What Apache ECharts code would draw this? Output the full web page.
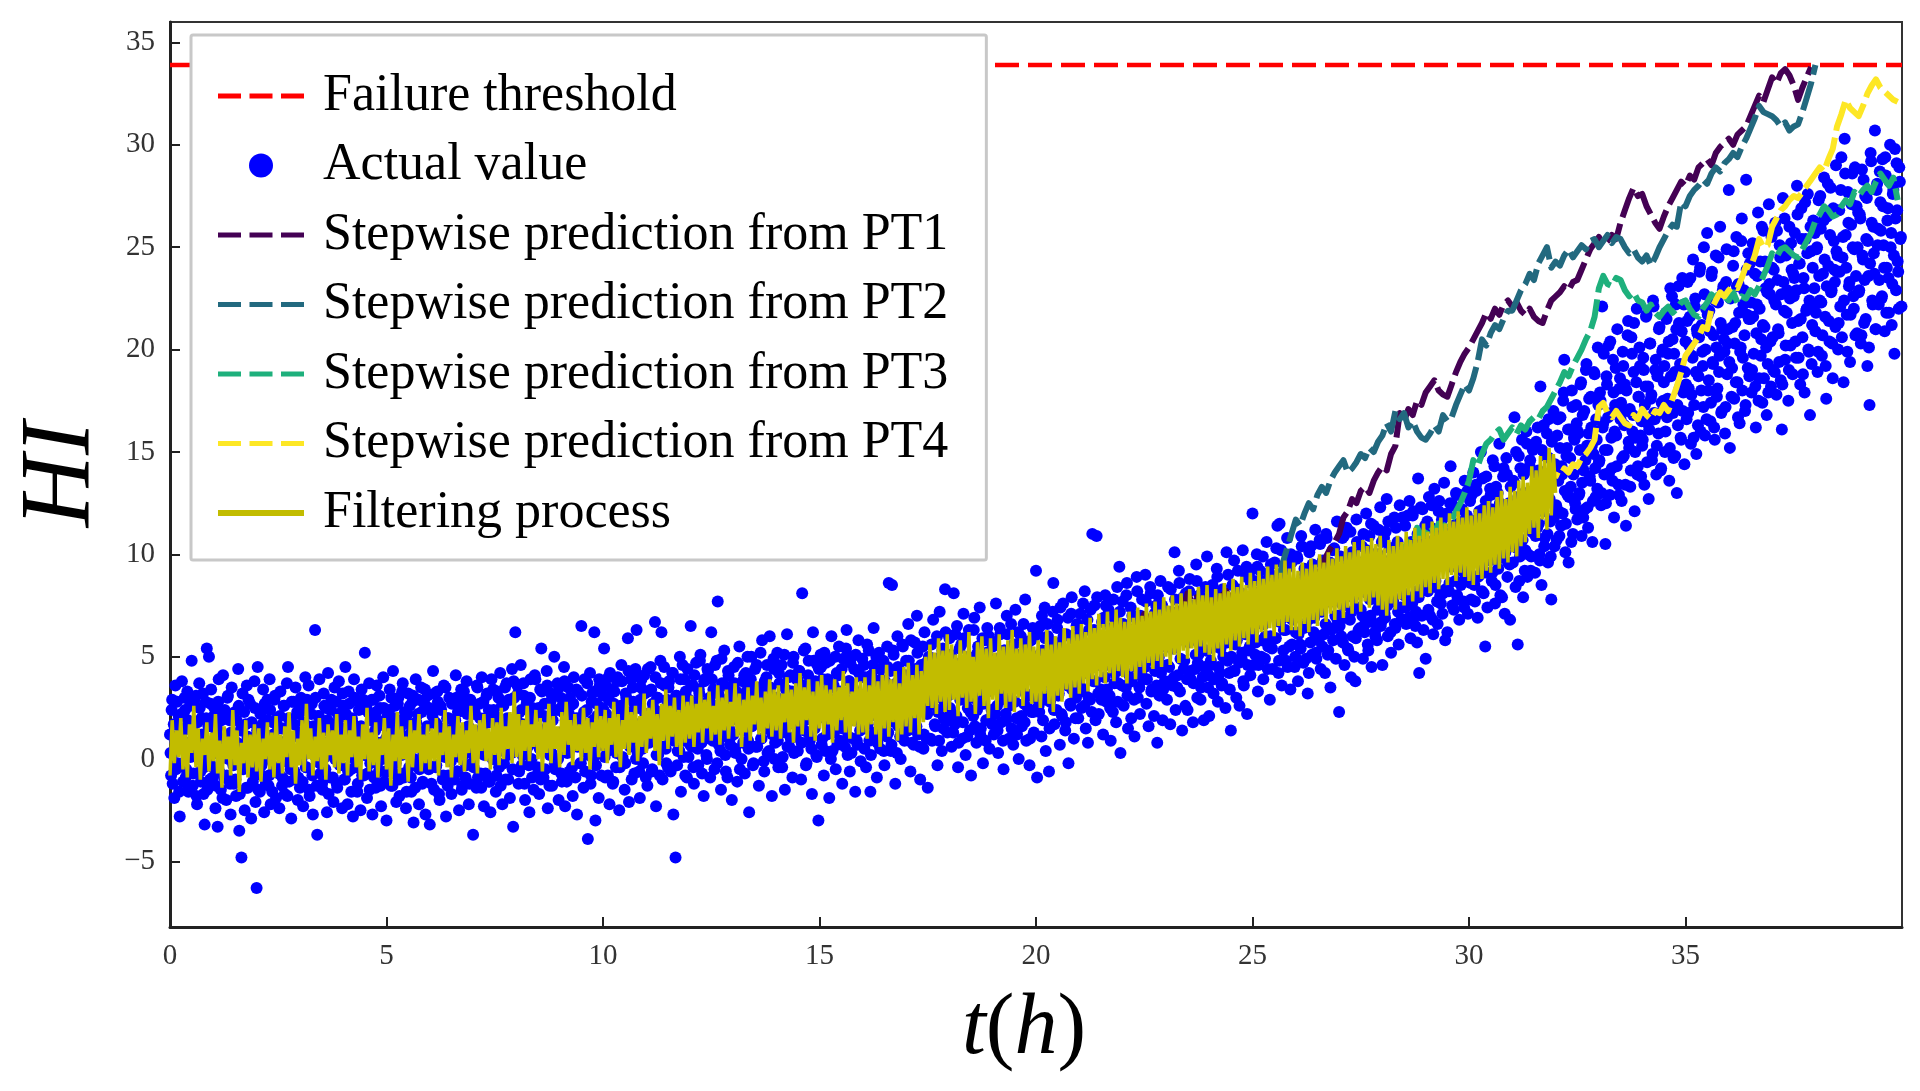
<!DOCTYPE html>
<html>
<head>
<meta charset="utf-8">
<title>HI stepwise prediction</title>
<script src="https://cdn.jsdelivr.net/npm/echarts@6.0.0/dist/echarts.min.js"></script>
<style>
html, body { margin: 0; padding: 0; background: #fff; }
#main { width: 1920px; height: 1091px; }
</style>
</head>
<body>
<div id="main"></div>
<script>
// ---- data ----
const failureThreshold = 33.9;
const xTicks = [0, 5, 10, 15, 20, 25, 30, 35];
const yTicks = [-5, 0, 5, 10, 15, 20, 25, 30, 35];

// actual HI measurements, two interleaved runs sampled every 0.025 h
const actualStep = 0.025;
const actual0to5 = [
  1.2,-0.8,2.9,0.3,-1.9,3.6,0.9,-0.2,2.1,-2.8,1.5,3.8,-1.1,0.6,2.4,-0.5,3.3,-1.6,1.8,0.1,
  4.8,-1.3,2.6,0.4,3.1,-2.2,1.1,3.7,-0.6,2.0,0.9,-1.7,-3.2,2.8,5.4,0.2,5.0,-1.0,3.4,1.6,
  -0.4,2.5,-2.4,1.3,-3.3,3.9,0.5,-1.5,2.2,4.1,-0.9,1.0,-2.0,3.0,0.0,1.9,-2.7,3.5,0.7,-1.2,
  2.3,-1.8,0.8,4.4,-3.5,1.4,-4.8,3.2,-0.3,-2.5,1.7,3.6,-1.4,0.3,2.7,-2.9,1.0,-0.7,3.8,-2.1,
  -6.3,4.5,0.6,-1.6,2.4,-0.8,3.4,-2.6,1.2,0.0,2.9,-1.3,3.9,-2.2,0.9,1.8,-0.5,3.1,-1.9,2.0,
  0.4,-2.4,3.3,1.5,-0.9,2.6,-1.7,0.8,3.7,4.5,-1.1,1.9,-2.9,0.2,2.8,-0.6,3.5,1.1,-2.0,2.2,
  -1.4,3.0,0.9,-2.3,2.4,4.0,-0.4,1.6,3.6,-1.8,0.3,2.7,-2.7,1.3,6.3,0.5,-3.7,2.1,3.9,-0.7,
  1.8,-1.5,3.2,0.1,2.5,-2.6,4.2,0.7,-0.9,2.9,1.4,-2.1,3.5,0.4,-1.2,2.2,3.8,-0.3,1.1,-2.4,
  2.6,-1.0,4.5,0.9,-2.2,3.3,1.7,-0.5,2.0,-2.8,3.9,0.0,1.5,-1.6,2.8,0.6,-2.5,3.4,1.0,-0.8,
  5.2,0.3,-1.9,2.3,3.7,-0.2,1.2,-2.7,2.9,0.8,-1.4,3.6,1.9,-0.6,2.5,-2.3,0.5,4.0,-1.1,1.6
];
const actual5to10 = [
  -3.0,2.1,0.4,3.4,-1.3,1.5,4.3,-0.7,2.6,-2.1,0.9,3.0,-1.8,1.9,0.2,3.7,-0.9,2.3,-2.4,1.1,
  3.2,-0.4,1.7,-1.6,2.8,-3.1,0.6,3.9,-0.1,2.2,-2.2,1.3,3.5,-1.2,0.3,2.7,-2.7,1.0,3.1,-0.5,
  -3.2,2.4,0.7,4.3,-1.5,1.8,-0.3,3.3,0.9,-2.0,2.6,1.2,-1.0,3.6,0.1,-2.8,2.0,-0.8,3.0,1.4,
  -1.7,2.9,0.4,1.6,4.1,-0.6,2.3,-2.5,1.0,3.4,-1.3,0.2,2.8,-0.9,3.8,1.5,-2.2,0.8,2.5,-0.2,
  -3.7,2.2,1.1,-1.4,3.5,0.3,2.7,-0.7,4.0,1.3,-2.3,2.0,0.5,3.2,-1.1,1.8,-2.6,3.9,0.0,2.4,
  1.0,-1.6,3.3,2.0,-0.4,4.2,0.7,-2.2,2.6,1.5,-1.0,3.7,0.2,2.9,-1.9,1.2,4.4,-3.3,3.0,6.2,
  0.8,3.6,-1.2,2.3,4.6,-0.3,1.7,3.1,-2.0,0.4,2.8,1.1,-2.6,3.9,0.0,2.5,-1.5,4.1,1.4,-0.8,
  2.1,-1.7,3.4,5.4,0.6,-0.9,2.7,1.3,4.3,-2.4,1.9,0.2,3.2,-1.3,2.4,5.0,-0.5,1.0,3.7,-2.0,
  0.9,3.0,-1.1,2.3,4.5,-2.3,1.6,0.3,3.5,-0.6,2.6,1.2,-1.8,4.0,0.7,2.0,-2.7,3.3,1.5,-0.2,
  6.5,1.8,-1.4,3.9,0.5,2.4,-3.9,1.1,4.2,-0.8,3.2,0.0,6.2,-3.0,2.7,1.4,-1.9,3.6,0.8,2.1
];
const actual10to15 = [
  3.1,5.4,-0.9,2.2,0.4,4.0,-2.2,1.8,3.4,-1.2,2.7,0.9,-0.4,3.8,1.3,-2.5,2.4,4.6,0.1,1.6,
  -1.5,3.2,2.0,5.9,-2.1,0.6,3.9,1.2,2.8,-0.7,4.4,6.3,0.3,2.5,-1.9,3.5,1.0,-0.2,4.1,2.2,
  0.8,-1.3,3.3,2.0,4.5,-0.6,2.7,1.4,6.7,-2.3,3.0,0.2,2.3,4.8,6.2,-1.0,1.7,3.6,0.5,2.9,
  -0.4,3.8,1.2,2.6,4.2,-2.7,1.5,-4.8,3.1,0.4,2.1,5.0,-1.6,2.8,0.9,3.9,-0.8,1.9,4.4,0.1,
  2.5,6.5,0.6,3.6,-1.2,2.0,4.7,1.1,-0.3,3.2,5.1,0.8,2.7,-1.8,3.9,1.5,0.0,4.3,2.2,-0.9,
  6.2,1.3,3.4,-0.5,2.6,4.8,7.7,0.7,2.0,-1.5,3.7,1.6,5.3,0.2,2.9,-0.9,4.1,1.0,3.0,-2.0,
  2.3,4.5,0.5,3.3,-1.1,1.9,5.5,2.7,0.0,3.8,1.4,-0.7,4.2,2.1,0.9,-2.6,3.6,5.0,1.7,-0.2,
  3.1,0.6,4.6,2.4,-1.3,3.5,1.0,5.8,2.9,-0.6,1.8,4.0,0.3,3.2,6.0,1.5,-1.8,2.6,4.4,0.8,
  2.0,5.2,-0.4,3.7,1.3,4.6,0.1,2.8,-1.5,3.4,6.1,1.7,0.6,4.1,2.3,-0.9,5.0,3.0,1.1,3.9,
  0.4,4.3,2.2,-1.0,8.1,3.6,1.4,5.4,-0.2,2.7,4.8,0.9,3.1,-1.7,6.2,1.9,3.8,0.2,4.6,-3.0
];
const actual15to20 = [
  2.6,5.1,0.7,3.9,-0.8,2.0,4.7,1.2,3.4,-1.9,2.9,6.0,0.4,3.6,1.6,-0.5,4.2,2.4,5.5,0.9,
  3.3,-1.2,4.9,1.8,2.7,6.3,0.2,3.8,-0.6,2.1,5.0,1.0,4.4,-1.6,3.0,0.7,5.8,2.5,-0.1,4.0,
  1.5,4.6,2.8,-0.4,5.6,3.3,0.9,-1.6,4.1,2.2,6.4,1.3,3.5,-0.9,2.6,5.2,0.5,3.9,1.9,4.8,
  -0.3,3.1,1.1,4.5,8.6,2.4,0.4,8.5,5.3,2.0,-1.2,3.7,6.0,1.6,4.2,0.0,2.9,5.5,1.4,3.6,
  4.8,1.8,6.6,2.6,-0.6,4.1,3.0,0.7,5.7,2.2,7.0,1.2,3.9,-1.0,4.6,2.8,0.5,6.2,3.3,1.0,
  -1.4,5.0,2.7,4.3,0.9,6.8,3.5,1.6,4.9,-0.3,2.4,7.2,3.8,0.4,5.4,2.0,8.3,4.6,1.3,3.1,
  5.9,2.3,0.6,4.4,8.1,1.7,3.6,6.5,-0.4,4.0,2.9,5.6,1.0,7.1,3.2,0.2,4.8,2.5,6.3,1.4,
  -0.8,4.5,2.1,6.9,3.4,0.8,5.2,2.7,7.4,1.5,4.1,-0.2,3.0,5.8,1.9,6.4,3.6,0.5,4.7,2.4,
  5.5,1.2,3.8,7.6,2.6,0.3,4.9,6.1,1.8,3.3,-0.5,5.3,2.2,7.0,4.3,1.0,3.0,6.6,2.8,0.7,
  4.6,7.3,2.0,5.1,0.0,3.7,6.0,1.6,4.4,2.7,7.8,0.9,5.7,3.1,-0.3,4.8,2.3,6.4,1.3,3.9
];
const actual20to25 = [
  9.2,-0.9,4.6,2.3,6.5,1.1,5.3,3.0,7.4,0.4,4.1,6.0,-0.6,2.8,5.6,3.5,8.6,1.7,4.9,2.4,
  6.8,3.2,0.7,5.4,2.1,7.6,4.3,1.4,6.1,3.6,-0.2,5.0,2.6,7.9,4.0,1.0,5.8,3.0,6.6,2.0,
  4.4,7.1,2.5,5.6,3.3,8.2,1.5,4.9,0.8,6.3,2.9,5.2,11.0,3.8,7.5,1.9,10.9,4.6,2.2,6.0,
  3.4,6.7,1.2,5.5,8.0,2.8,4.7,7.3,3.1,0.9,5.9,2.3,6.9,4.2,1.8,8.4,3.7,9.4,0.3,5.3,
  7.7,2.6,5.1,3.5,8.6,1.5,6.2,4.0,2.0,7.0,5.6,1.1,4.5,8.9,3.0,6.5,2.2,5.0,7.8,3.9,
  4.8,9.0,2.7,6.4,1.6,5.5,8.1,3.4,6.9,2.1,4.3,7.5,0.8,5.8,3.1,8.7,4.6,1.9,6.7,3.8,
  6.1,2.9,8.4,4.5,1.7,7.2,3.6,5.4,10.1,2.4,6.8,4.1,9.2,3.3,5.9,1.4,7.9,4.8,2.6,6.5,
  2.4,5.7,8.8,3.9,6.6,1.8,7.4,4.4,9.5,3.0,5.1,8.0,2.9,6.2,4.0,1.9,7.6,5.3,9.9,3.5,
  2.1,6.9,4.6,8.5,3.2,7.3,5.5,9.3,2.8,6.0,4.2,8.1,3.7,5.0,7.7,2.5,10.1,4.8,6.4,3.4,
  1.4,7.0,4.3,9.7,5.6,3.0,8.3,6.2,2.6,7.8,4.9,10.2,3.6,6.6,8.9,2.2,5.3,9.1,4.1,7.2
];
const actual25to30 = [
  12.0,4.6,8.1,5.7,10.0,3.3,7.4,9.2,5.0,6.6,3.9,8.7,6.0,10.6,4.4,7.9,2.9,9.5,5.4,7.1,
  8.4,5.9,10.3,11.4,4.2,11.5,7.0,3.6,9.0,6.3,8.8,4.8,10.8,7.6,5.5,3.4,9.6,6.8,8.2,4.5,
  6.2,9.9,3.8,8.0,5.6,10.9,7.3,4.7,9.3,6.5,8.6,3.2,4.2,7.8,10.4,5.1,9.1,6.9,11.2,4.9,
  8.5,5.8,10.7,4.4,7.2,9.7,6.1,4.2,11.0,8.3,5.3,9.4,3.5,7.7,10.2,6.4,8.9,4.9,11.6,7.0,
  2.3,9.2,6.0,10.8,7.5,4.6,8.7,11.3,5.4,9.8,6.8,4.0,10.1,7.9,5.0,3.8,11.7,8.4,6.3,9.6,
  7.3,10.4,4.9,9.0,6.6,12.0,8.1,5.3,10.9,7.0,4.5,9.5,11.4,6.2,8.8,5.8,10.0,7.6,12.3,6.7,
  4.6,9.7,7.1,11.1,12.7,6.0,8.5,10.3,5.2,9.1,7.7,11.8,6.4,8.9,10.6,5.6,12.4,7.4,9.9,6.8,
  8.0,11.4,6.6,10.1,7.9,12.6,5.9,9.3,11.9,6.9,9.8,7.2,5.7,13.7,4.2,10.7,8.3,12.2,6.3,9.0,
  4.9,10.5,8.2,12.8,7.0,11.3,9.4,6.1,13.2,8.7,10.9,6.6,12.1,9.9,7.6,11.7,8.1,13.5,5.8,10.2,
  6.2,11.0,8.6,14.3,9.5,12.4,7.3,10.6,13.0,8.0,11.5,6.8,12.9,9.2,10.8,7.7,13.6,8.9,11.9,7.1
];
const actual30to35 = [
  9.4,12.6,7.8,11.2,14.0,8.5,10.7,13.1,6.9,11.8,9.0,15.0,8.2,12.2,10.1,5.5,13.8,7.4,11.5,9.7,
  12.9,8.7,14.6,10.4,7.6,13.3,11.2,9.3,15.4,8.0,12.0,10.0,14.2,7.1,11.7,13.9,9.6,12.5,6.8,10.9,
  10.5,13.6,16.7,8.4,12.3,5.6,14.8,9.9,11.8,15.6,7.9,13.0,10.2,16.0,8.9,12.7,14.3,9.2,11.1,15.1,
  12.0,9.1,15.5,11.3,14.1,10.0,18.2,8.5,13.2,16.3,10.8,12.6,15.9,9.6,14.7,11.6,7.8,13.7,17.0,10.4,
  14.2,10.7,16.6,12.1,15.2,11.4,13.9,17.5,19.5,10.1,14.8,12.9,9.6,16.1,13.3,18.0,11.0,15.7,12.5,17.3,
  11.7,15.9,13.0,18.3,10.9,16.8,14.1,12.2,19.0,15.3,11.3,17.6,13.6,16.2,10.6,14.9,18.8,12.8,15.6,20.1,
  14.5,17.9,12.4,22.1,16.4,13.9,10.5,18.7,15.1,20.2,12.9,16.9,14.2,19.5,11.8,17.3,15.8,21.0,13.4,18.1,
  16.6,12.6,19.9,14.8,18.3,11.4,17.0,21.4,15.2,13.3,20.6,16.0,18.9,12.1,15.7,22.0,14.3,17.7,19.2,13.8,
  15.3,19.6,13.4,18.2,21.7,16.4,12.7,20.3,17.6,14.6,22.4,16.9,19.0,13.9,18.7,15.9,21.1,14.1,17.4,20.0,
  18.4,15.0,21.8,16.7,19.8,13.6,23.0,17.2,20.5,14.7,18.9,22.2,13.0,16.3,21.3,19.3,15.6,23.5,17.9,14.4
];
const actual35to40 = [
  20.4,16.6,23.3,18.1,21.6,15.4,19.7,24.4,17.3,22.5,14.9,20.8,18.7,23.8,16.0,21.2,19.2,25.0,15.8,22.0,
  25.7,18.0,21.9,16.5,23.6,19.4,20.7,15.6,24.6,17.7,22.3,18.9,26.0,16.9,21.0,23.1,19.9,17.2,24.9,20.3,
  27.8,15.2,22.6,19.1,24.1,17.6,21.3,25.5,18.4,23.2,16.4,20.1,26.4,19.6,22.9,17.0,28.3,21.7,24.7,18.7,
  21.5,17.9,25.2,19.8,23.7,16.2,22.2,26.7,18.6,24.3,20.5,17.4,25.8,21.1,23.0,16.8,19.3,27.1,22.7,18.2,
  24.0,19.0,22.4,26.2,17.8,23.4,20.8,25.1,18.5,16.1,27.4,21.9,19.5,24.6,22.9,17.5,26.0,20.2,23.9,18.8,
  22.6,25.7,19.6,28.0,21.4,24.2,18.3,26.9,20.6,23.5,17.9,25.4,22.0,27.6,19.9,16.8,24.8,21.2,26.3,23.0,
  20.9,24.9,18.9,27.3,22.4,25.9,19.7,23.7,28.4,21.6,17.6,26.5,24.1,20.4,27.9,22.9,18.6,25.3,23.3,29.0,
  23.8,20.0,26.8,22.1,29.4,24.5,18.4,30.3,25.6,21.7,27.7,23.1,19.4,26.1,28.6,22.6,24.9,20.7,27.0,25.0,
  22.8,26.6,20.3,28.8,24.4,21.3,27.5,25.4,19.2,23.6,17.3,29.6,26.2,22.2,24.7,30.7,21.0,28.1,25.9,23.4,
  27.2,22.5,29.3,25.1,20.9,28.5,24.0,26.9,21.8,30.0,25.7,23.2,27.8,19.8,26.4,29.1,24.3,22.0,28.2,25.5
];
// second run, offset half a step
const actualB0to5 = [
  0.3,2.4,-1.2,1.7,0.9,-0.5,2.8,1.1,-1.6,0.6,2.2,-0.2,1.4,3.0,-0.9,0.8,1.9,-1.4,2.6,0.2,
  1.5,-0.7,2.9,0.4,-1.8,1.8,0.0,2.5,-1.1,1.2,3.2,-0.4,0.7,2.0,-1.5,1.6,-0.1,2.7,0.5,-0.9,
  2.1,0.3,-1.3,1.5,2.8,-0.6,0.9,1.9,-1.9,0.1,2.4,1.0,-0.8,3.1,0.6,-1.2,1.3,2.2,-0.3,0.8,
  -1.0,1.9,0.2,2.6,-1.7,0.7,1.6,-0.5,2.3,0.0,-1.4,1.1,2.9,-0.2,0.9,1.8,-1.1,0.4,2.5,-0.6,
  1.4,-1.5,0.8,2.2,-0.3,1.7,0.1,2.7,-1.2,0.6,1.9,-0.8,2.4,0.3,-1.6,1.2,2.9,-0.4,0.9,1.6,
  -0.7,2.1,0.5,-1.3,1.5,2.6,-0.1,0.9,-1.8,2.0,1.0,-0.5,2.8,0.4,1.7,-1.0,0.2,2.3,-0.9,1.3,
  2.5,0.0,-1.1,1.8,0.7,-0.4,2.9,1.2,-1.5,0.5,2.2,-0.8,1.6,0.2,3.0,-1.3,1.0,2.1,-0.2,0.8,
  -1.2,1.4,2.6,-0.5,0.8,1.9,-1.7,0.3,2.4,1.1,-0.9,1.7,0.0,2.8,-1.4,0.6,2.0,-0.3,1.5,3.2,
  0.4,-1.0,2.2,1.3,-0.6,2.7,0.1,-1.6,1.8,0.9,3.0,-0.4,1.2,-1.2,2.4,0.5,1.6,-0.8,2.9,0.2,
  1.1,2.6,-0.7,0.6,-1.5,1.9,2.9,0.3,-0.9,1.4,2.3,-0.2,0.8,3.1,-1.3,1.7,0.0,2.5,-0.6,1.0
];
const actualB5to10 = [
  1.6,-0.6,2.4,0.2,3.0,-1.3,1.1,2.0,-0.2,0.7,2.7,-1.0,1.5,0.4,3.3,-0.7,1.9,0.9,-1.6,2.2,
  0.3,2.6,-0.9,1.4,3.1,0.0,-1.4,1.8,0.6,2.9,-0.5,1.2,2.3,-1.1,0.8,3.4,0.1,1.6,-0.3,2.5,
  1.0,-1.2,2.1,0.5,3.2,-0.4,1.7,2.8,-1.7,0.9,2.4,0.2,-0.8,1.5,3.5,0.6,-1.3,2.0,1.1,-0.1,
  2.7,0.4,-1.0,1.9,3.0,-0.6,1.3,0.1,2.5,-1.5,1.0,3.3,0.7,-0.3,2.2,1.6,-1.2,2.9,0.3,1.4,
  -0.4,2.3,1.2,3.6,-0.9,0.8,2.0,-1.4,1.5,2.8,0.2,-0.7,3.1,1.0,2.4,-1.1,0.5,1.8,3.4,0.0,
  2.1,-0.8,1.3,3.0,0.4,-1.3,2.6,1.7,-0.2,3.5,0.9,2.0,-1.0,1.2,2.9,0.3,-0.5,3.8,1.6,0.7,
  1.9,3.2,-0.6,1.0,2.4,0.2,3.7,-1.2,1.5,2.7,0.6,-0.3,3.0,1.8,-0.9,2.2,0.8,3.9,1.2,-0.4,
  2.5,0.5,-1.0,3.3,1.4,2.1,-0.5,0.9,3.6,1.7,-1.3,2.8,0.3,1.9,3.1,-0.2,1.1,2.4,0.0,3.5,
  1.3,-0.7,2.6,0.8,3.8,1.9,-1.1,0.4,2.2,3.0,1.0,-0.4,2.7,1.5,-0.9,3.4,0.6,2.0,1.7,-0.2,
  3.1,0.9,2.3,-0.6,1.6,3.7,0.2,1.2,-1.2,2.8,1.9,0.4,3.3,-0.3,2.1,1.4,3.9,0.7,-0.8,2.5
];
const actualB10to15 = [
  2.4,0.1,3.6,1.2,-0.8,2.9,4.2,0.6,1.8,-1.1,3.3,2.0,0.3,4.0,1.5,-0.4,2.6,3.8,0.9,1.9,
  -0.2,3.0,1.4,4.3,0.7,2.3,-1.0,3.5,1.0,2.7,0.0,4.1,1.7,-0.6,2.9,3.9,0.5,1.3,3.2,-0.9,
  2.2,4.4,0.8,1.6,3.4,-0.5,2.5,1.1,4.0,0.2,3.0,1.9,-0.8,3.7,2.1,0.6,4.5,1.4,-0.2,2.8,
  3.5,1.0,-0.6,2.4,4.2,0.9,1.8,3.1,-0.3,2.6,0.4,3.9,1.5,4.6,0.1,2.0,3.3,-0.9,1.2,2.9,
  0.7,3.6,2.2,-0.4,4.1,1.3,2.8,0.5,3.4,4.8,1.7,-0.7,2.5,3.8,1.0,0.2,4.4,2.0,3.0,1.4,
  3.9,0.9,2.4,4.6,1.6,-0.2,3.2,2.1,0.4,4.9,1.1,2.8,3.6,-0.6,2.0,4.3,1.5,0.7,3.4,2.6,
  1.2,3.7,0.3,2.6,4.7,1.9,-0.5,3.0,2.2,0.8,4.1,1.4,3.3,5.0,0.5,2.4,3.9,1.6,-0.3,2.9,
  4.4,1.8,0.6,3.2,2.3,5.2,1.0,2.7,-0.1,3.8,1.5,4.6,2.0,0.4,3.5,2.8,1.2,4.9,0.0,2.5,
  3.0,0.9,4.2,1.7,2.6,-0.4,3.6,5.1,1.3,2.2,0.6,4.0,2.9,1.0,3.3,4.7,0.3,2.4,1.8,3.9,
  1.6,4.3,2.7,0.8,3.5,5.3,1.9,-0.3,2.9,4.1,1.2,3.2,0.5,2.3,4.8,1.5,3.6,0.1,2.6,4.4
];
const actualB15to20 = [
  2.3,4.5,1.0,3.3,5.2,0.4,2.8,3.9,1.6,4.8,0.0,2.5,3.6,1.3,5.0,2.0,0.7,4.1,2.9,1.8,
  4.4,1.5,3.1,0.6,5.4,2.4,1.1,3.8,4.7,0.3,2.7,3.4,1.9,5.1,0.9,3.0,4.2,1.4,2.2,4.9,
  2.6,0.5,4.0,3.2,1.7,5.3,2.1,0.2,3.7,4.6,1.2,2.9,5.0,0.8,3.5,2.3,4.4,1.6,3.0,0.4,
  3.8,2.2,5.5,1.3,3.0,4.3,0.7,2.6,5.1,1.8,3.5,0.3,4.5,2.4,1.1,3.9,5.6,2.0,0.9,4.1,
  3.1,1.4,4.8,2.5,5.8,0.8,3.6,2.0,4.4,1.6,5.2,3.0,0.6,4.0,2.7,5.5,1.2,3.4,4.7,2.2,
  4.3,2.6,1.0,5.6,3.2,4.9,1.7,3.9,6.0,2.3,0.9,4.5,3.0,5.3,1.5,2.8,6.2,3.6,1.9,4.6,
  2.5,5.1,3.4,1.3,4.7,6.1,2.1,3.8,0.8,5.4,3.1,4.2,1.8,5.9,2.9,4.0,1.1,5.0,3.6,2.3,
  4.8,3.0,6.3,1.6,4.1,2.4,5.5,3.5,1.2,4.6,5.9,2.7,3.9,0.9,5.2,3.3,6.0,2.0,4.4,1.7,
  3.7,5.7,2.2,4.9,1.4,3.4,6.4,2.9,4.2,0.9,5.3,3.1,1.9,6.1,4.5,2.6,5.0,1.5,3.8,5.6,
  2.8,4.7,1.2,6.2,3.5,5.1,2.1,4.0,6.6,1.8,3.2,5.4,2.5,4.4,1.0,5.8,3.9,2.3,6.0,3.0
];
const actualB20to25 = [
  4.0,6.2,2.6,5.1,3.3,7.0,1.9,4.7,5.9,2.9,6.6,3.8,1.5,5.4,4.3,7.2,2.4,5.7,3.5,6.4,
  3.1,5.5,7.4,2.2,4.6,6.0,3.7,1.8,5.2,6.9,4.1,2.7,7.1,3.4,5.9,4.9,2.0,6.5,3.9,5.3,
  6.1,3.5,4.8,7.6,2.6,5.6,4.2,6.8,3.0,5.0,7.3,2.3,4.5,6.3,3.8,5.8,7.9,3.2,4.9,6.0,
  2.9,5.3,6.9,4.0,7.5,3.4,5.7,4.6,2.5,6.4,5.1,7.8,3.7,6.1,4.4,2.8,5.9,7.2,4.8,3.6,
  6.6,4.3,5.5,8.0,3.1,6.2,4.9,7.4,3.8,5.8,2.9,6.9,4.6,8.2,5.2,3.5,7.0,4.1,6.4,5.6,
  4.5,7.7,3.9,6.0,5.3,8.4,3.3,6.7,4.8,7.1,5.9,3.6,8.0,5.0,6.5,4.2,7.5,3.4,6.1,5.5,
  7.2,4.6,6.3,3.8,8.3,5.4,6.9,4.0,7.8,5.7,3.5,6.6,8.6,4.9,6.0,7.3,4.4,5.8,8.1,3.9,
  5.9,8.2,4.3,6.8,7.5,3.7,6.2,5.1,8.7,4.7,7.0,5.6,3.5,7.7,6.4,4.5,8.4,5.3,6.9,4.1,
  6.7,4.8,8.0,5.9,3.9,7.4,6.1,8.9,4.5,7.1,5.4,3.6,8.3,6.5,4.9,7.8,5.7,9.0,4.2,6.3,
  5.0,8.5,6.4,4.3,7.6,5.8,9.2,4.7,6.9,8.1,5.2,3.8,7.3,6.1,9.4,4.6,7.0,5.5,8.6,6.0
];
const actualB25to30 = [
  6.2,8.7,5.1,7.5,9.4,4.6,7.0,8.2,5.8,9.9,6.6,4.9,8.5,7.3,5.5,9.1,6.0,8.0,4.4,7.8,
  9.6,5.9,7.2,8.8,4.8,6.7,10.2,7.7,5.3,8.4,6.3,9.3,4.5,7.9,6.9,10.0,5.6,8.3,7.1,5.0,
  7.4,9.8,6.1,8.6,5.4,10.4,7.6,6.4,9.0,4.9,8.1,6.8,10.1,5.7,7.3,9.5,6.2,8.9,5.2,7.8,
  8.8,6.0,10.5,7.4,5.5,9.2,8.0,6.6,10.8,5.1,7.7,9.6,6.3,8.5,5.8,10.3,7.0,9.0,6.8,8.2,
  6.5,9.9,7.6,5.7,10.9,8.3,6.9,9.4,5.3,8.7,11.1,7.2,6.0,9.7,8.1,5.9,10.6,7.4,8.9,6.4,
  9.3,7.0,11.0,6.2,8.6,10.2,5.6,9.0,7.8,11.5,6.7,8.4,10.0,6.0,9.5,7.3,11.2,8.0,6.5,10.6,
  8.3,10.8,6.9,9.6,7.5,11.6,8.8,6.2,10.3,7.9,9.2,6.6,11.3,8.5,7.2,10.0,9.4,6.8,11.8,8.1,
  10.2,7.4,9.1,11.9,6.9,8.7,10.6,7.6,12.1,9.5,6.5,8.2,11.0,7.9,9.8,12.3,7.0,10.4,8.6,11.4,
  8.9,11.6,7.3,10.1,9.3,12.4,6.8,10.7,8.4,11.2,7.7,9.9,12.6,8.0,10.5,7.1,11.8,9.6,8.3,12.0,
  10.9,8.2,12.5,9.4,7.5,11.4,10.0,8.7,12.9,7.8,11.1,9.7,8.5,12.2,10.3,7.4,11.7,9.2,13.1,8.9
];
const actualB30to35 = [
  10.8,8.6,12.9,9.9,11.6,7.7,13.4,10.3,8.9,12.1,11.0,9.4,13.7,8.1,10.6,12.6,9.1,11.9,10.0,13.2,
  12.2,9.1,10.4,14.3,8.5,11.7,13.0,9.8,12.5,10.9,7.9,13.8,11.3,10.1,14.7,8.9,12.0,9.5,13.3,11.6,
  9.6,13.5,11.1,15.0,10.3,12.8,8.7,14.2,12.3,10.7,13.9,9.2,11.8,15.4,10.0,12.6,14.6,9.9,11.4,13.1,
  14.0,10.9,12.9,16.2,11.5,9.7,13.6,15.1,12.1,10.4,14.8,13.2,11.0,16.6,12.7,9.9,15.5,13.9,11.8,14.4,
  12.4,15.8,13.6,10.9,16.7,14.3,12.0,17.9,13.1,11.5,15.2,16.1,12.8,14.7,10.6,17.2,13.9,15.6,12.2,16.4,
  16.0,12.9,15.1,18.4,13.5,11.8,17.0,14.6,19.3,12.3,15.9,13.8,17.7,15.3,12.6,18.9,14.2,16.6,13.2,17.3,
  14.6,17.5,13.0,16.2,19.8,15.1,12.5,18.3,16.7,14.0,20.4,15.7,13.6,17.9,16.0,19.1,14.3,17.0,12.9,18.6,
  17.4,14.7,19.2,16.3,13.4,18.0,20.7,15.5,17.1,14.1,19.8,16.8,21.3,15.0,18.4,13.9,17.7,20.1,15.8,16.5,
  15.6,19.0,17.3,21.6,14.5,18.2,16.1,20.3,17.8,14.9,22.1,16.6,19.5,15.3,18.9,21.0,16.9,14.2,19.9,17.5,
  19.2,16.0,21.5,17.6,20.4,15.2,18.7,22.6,16.9,19.8,14.8,21.0,17.3,23.1,18.1,15.7,20.9,17.0,22.2,18.9
];
const actualB35to40 = [
  18.3,21.4,16.9,20.2,23.5,17.8,19.6,15.7,22.1,18.9,21.0,16.3,20.6,24.0,18.0,19.9,17.2,22.7,20.0,16.6,
  21.7,18.5,20.9,17.4,23.8,19.3,16.2,22.4,20.1,18.1,24.5,19.7,21.3,17.0,22.9,20.5,15.9,23.3,18.8,21.0,
  19.4,22.5,17.7,21.1,24.8,20.3,18.4,23.1,16.7,21.8,19.9,25.3,18.0,22.2,20.7,17.3,23.9,19.1,21.5,24.2,
  22.3,19.0,21.6,25.1,18.2,20.8,23.6,17.5,22.0,19.7,26.0,21.2,18.6,24.3,20.1,22.8,17.9,23.2,20.4,25.5,
  20.6,23.9,18.9,22.2,25.8,21.0,19.4,24.5,22.7,18.3,23.3,26.4,20.2,21.8,24.9,19.0,22.5,25.2,21.3,23.7,
  23.5,20.4,22.9,26.6,19.6,24.2,21.5,25.4,18.8,23.0,27.2,21.9,24.7,20.0,22.4,26.0,19.3,24.0,22.1,25.7,
  21.8,25.0,19.9,23.6,27.5,22.3,20.7,26.3,24.4,19.2,23.1,28.1,21.4,25.6,22.8,20.3,26.9,23.9,21.1,24.8,
  24.6,21.3,23.8,27.8,20.6,25.5,22.4,28.6,24.0,19.9,26.2,23.3,21.7,27.1,25.0,22.0,28.9,23.6,20.8,26.7,
  22.9,26.4,20.7,24.6,28.3,23.4,21.5,27.4,25.3,20.1,24.2,29.2,22.4,26.0,23.7,21.0,27.8,25.1,22.2,28.7,
  25.8,22.6,27.0,24.0,29.4,21.8,26.3,23.5,28.2,25.0,21.2,27.6,24.6,29.8,22.9,26.8,23.8,28.9,25.4,22.1
];

// filtering process, one estimate every 0.05 h
const filterStep = 0.05;
const filter0to8 = [
  -0.8,1.9,-0.2,1.4,0.1,2.0,-0.5,1.2,-0.9,1.7,0.3,2.6,-0.4,1.5,-1.0,1.0,0.2,1.8,-0.6,1.3,
  -0.1,2.2,-0.7,0.9,-1.4,1.6,0.0,1.1,-0.8,2.4,-0.3,1.4,-1.6,0.8,-0.2,1.9,-0.9,1.2,-0.4,1.7,
  -0.6,1.5,-1.1,1.0,0.0,1.8,-0.5,1.3,-0.9,2.1,-0.2,1.2,-0.7,1.6,0.1,2.3,-0.4,1.4,-1.2,1.0,
  -0.3,1.9,-0.6,2.7,0.0,1.5,-0.8,1.1,-0.1,2.0,-0.5,1.3,-1.0,1.7,0.2,1.4,-0.4,2.2,-0.7,1.2,
  -0.2,1.9,-0.8,1.4,0.1,2.1,-0.4,1.1,-1.0,1.7,0.0,2.5,-0.6,1.3,-0.3,1.8,-0.9,1.0,0.2,2.0,
  -0.5,1.5,-1.3,1.2,-0.1,2.3,-0.7,1.6,0.0,1.1,-1.1,1.9,-0.4,1.4,0.3,2.2,-0.6,1.2,-0.2,1.7,
  -0.5,1.5,-0.1,2.0,-0.8,1.3,0.2,2.4,-0.4,1.6,-0.9,1.2,0.1,2.1,-0.3,1.8,-0.6,1.4,0.3,2.6,
  -0.2,1.7,-0.7,1.9,0.4,2.2,-0.1,1.5,-0.5,2.0,0.2,1.8,-0.3,2.5,0.0,1.6,0.5,2.3,-0.2,3.3
];
const filter8to16 = [
  0.1,2.2,-0.3,1.9,0.4,2.6,-0.1,1.7,0.6,2.4,0.0,2.0,-0.6,1.8,0.3,2.7,-0.2,2.1,0.5,1.6,
  -0.4,2.3,0.2,2.8,0.7,1.9,-0.3,2.2,0.4,1.7,-0.1,2.5,0.3,2.0,-0.5,1.8,0.6,2.6,0.1,2.1,
  0.4,2.4,-0.2,2.0,0.7,2.8,0.1,2.2,-0.4,1.9,0.5,3.0,0.2,2.3,0.8,2.6,-0.1,2.1,0.6,3.2,
  0.3,2.5,1.0,2.9,0.4,2.2,-0.3,2.7,0.9,3.4,0.5,2.6,1.1,3.0,0.6,2.4,0.2,3.1,0.8,2.8,
  1.0,3.1,0.6,2.7,1.3,3.5,0.8,2.9,1.5,3.3,0.9,2.6,1.2,3.6,0.7,3.0,1.4,3.4,1.0,2.8,
  1.6,3.7,1.1,3.2,0.6,2.9,1.3,3.5,0.9,3.1,1.7,3.8,1.2,3.0,0.8,3.3,1.5,3.9,1.1,3.4,
  1.4,3.6,1.0,3.2,1.8,4.0,1.3,3.4,0.8,3.7,1.6,4.2,1.2,3.5,1.9,3.9,1.1,3.3,0.9,3.8,
  1.5,4.1,1.2,3.6,1.7,3.4,0.8,3.9,1.4,3.5,1.9,4.3,1.3,3.7,1.0,3.3,1.6,4.0,1.2,3.8
];
const filter16to24 = [
  1.3,4.0,1.0,3.6,1.7,4.4,1.2,3.8,0.6,4.1,1.5,4.6,1.1,3.9,1.8,4.3,0.9,3.7,1.2,4.5,
  1.6,4.7,1.3,4.1,2.0,4.6,1.2,4.3,1.8,5.0,2.6,5.6,2.5,5.2,2.2,5.9,2.8,5.3,2.3,6.1,
  2.4,5.6,2.9,5.1,2.1,5.8,3.0,5.3,2.5,6.2,2.8,5.0,2.2,5.7,3.1,6.0,2.6,5.4,2.0,5.9,
  2.9,5.2,2.4,6.1,3.2,5.5,2.5,5.8,2.8,6.3,2.3,5.4,3.0,5.9,2.6,5.6,3.3,6.2,2.7,5.5,
  2.8,5.8,2.5,5.4,3.2,6.3,2.7,5.6,2.3,6.0,3.1,5.7,2.8,6.4,3.4,5.9,3.0,6.5,3.5,6.1,
  3.2,6.6,3.7,6.2,3.3,6.9,3.9,6.4,3.6,7.1,4.0,6.6,3.7,7.2,4.2,6.7,3.8,7.3,4.3,6.9,
  4.0,6.7,3.7,7.2,4.3,6.9,3.9,7.4,4.5,7.0,4.2,7.6,4.7,7.2,4.4,7.7,4.8,7.3,4.5,7.9,
  5.0,7.5,4.6,8.0,5.1,7.6,4.7,8.1,5.3,7.7,4.9,8.3,5.4,7.8,5.0,8.4,5.5,8.0,5.2,8.5
];
const filter24to32 = [
  5.1,7.9,4.8,8.3,5.4,8.1,5.0,8.6,5.6,8.2,5.3,8.8,5.8,8.4,5.5,8.9,5.9,8.5,5.6,9.1,
  6.1,8.7,5.7,9.2,6.2,8.8,5.9,9.4,6.4,9.0,6.0,9.5,6.5,9.1,6.2,9.7,6.7,9.3,6.3,9.6,
  6.3,9.2,6.0,9.6,6.6,9.3,6.2,9.8,6.8,9.5,6.5,10.0,7.0,9.6,6.7,10.1,7.1,9.8,6.8,10.3,
  7.3,9.9,6.9,10.4,7.4,10.1,7.1,10.6,7.6,10.2,7.2,10.7,7.7,10.4,7.4,10.8,7.9,10.5,7.5,10.9,
  7.3,10.3,7.0,10.7,7.6,10.4,7.3,10.9,7.8,10.6,7.5,11.1,8.0,10.7,7.7,11.3,8.2,10.9,7.9,11.5,
  8.4,11.1,8.1,11.6,8.6,11.3,8.3,11.8,8.8,11.5,8.5,12.0,9.0,11.6,8.7,12.1,9.1,11.8,8.9,12.3,
  8.7,11.9,8.5,12.2,9.0,12.0,8.8,12.4,9.2,12.6,9.1,12.3,9.5,12.8,9.3,13.1,9.8,12.7,9.6,13.3,
  10.1,13.1,9.9,13.6,10.4,13.8,10.6,13.5,11.0,14.3,11.3,14.1,10.8,14.8,11.7,14.6,11.2,15.2,11.9,14.9,
  13.0
];

// stepwise predictions, one step every 0.1 h from each prediction time
const predStep = 0.1;
const pt1Start = 20.2;
const pt1Values = [
  4.0,4.4,4.1,4.6,4.8,4.5,5.0,4.9,
  5.3,5.0,5.6,5.4,5.9,6.0,5.7,6.2,6.5,6.1,
  6.4,6.0,6.2,6.7,6.5,7.1,6.8,7.0,6.6,6.9,
  6.8,7.2,7.0,7.5,7.3,8.1,7.7,7.9,7.4,7.6,
  7.5,7.9,7.7,8.0,8.2,7.8,8.1,7.6,7.9,7.5,
  7.6,7.9,8.2,7.8,8.1,8.0,7.7,8.3,7.9,7.6,
  7.8,8.1,7.9,8.2,8.6,8.9,9.4,9.9,10.3,10.6,
  11.0,11.8,12.1,12.7,12.5,13.1,13.3,13.0,13.6,14.0,
  14.3,14.1,14.9,15.3,16.9,16.5,17.1,16.8,17.5,17.3,
  17.9,18.2,18.5,18.0,17.8,17.7,18.3,18.9,19.4,19.8,
  20.1,20.5,20.9,21.3,21.8,21.5,22.0,21.7,22.2,22.4,
  22.1,22.3,21.9,21.7,22.0,21.6,21.4,21.3,21.9,22.4,
  22.6,22.8,23.1,22.9,23.3,23.4,23.9,24.4,24.9,25.2,
  25.5,25.1,25.3,25.6,25.4,26.2,26.8,27.4,27.9,27.5,
  27.6,27.0,26.6,26.2,25.9,26.5,27.0,27.4,27.8,28.2,
  28.0,28.5,28.3,28.9,29.1,29.3,29.0,29.6,29.9,30.1,
  30.3,30.0,30.5,30.7,30.9,31.4,31.9,32.4,32.1,32.7,
  33.3,33.0,33.5,33.7,33.4,32.9,32.2,32.8,33.3,33.8
];
const pt2Start = 25.3;
const pt2Values = [
  7.2,7.6,8.1,8.8,9.6,10.3,11.0,
  11.7,11.4,12.0,12.5,12.2,12.9,13.3,13.0,13.6,14.0,
  14.3,14.6,14.0,14.2,14.5,14.9,14.7,15.2,15.0,15.5,
  15.8,16.4,16.0,17.0,16.6,16.9,16.2,16.5,16.0,15.7,
  15.6,15.9,16.3,16.0,16.8,16.5,16.7,17.3,17.8,18.3,
  18.0,18.6,19.4,20.5,20.2,20.8,21.2,21.0,21.5,21.9,
  21.9,22.4,22.9,23.2,23.7,23.4,24.2,24.6,25.0,24.0,
  24.3,24.1,24.6,24.9,24.5,24.8,25.1,24.9,25.3,25.4,
  25.0,25.3,25.6,25.2,25.5,25.4,25.0,24.7,24.9,24.5,
  24.3,24.6,24.1,24.5,25.0,25.4,25.8,26.1,26.0,27.2,
  27.0,27.5,27.8,28.0,28.3,28.1,28.6,28.9,28.7,29.1,
  29.3,29.6,29.4,29.9,30.3,30.8,31.3,31.9,31.6,31.5,
  31.4,31.2,30.9,31.1,30.7,30.9,31.0,31.6,32.3,33.0,
  33.9
];
const pt3Start = 28.4;
const pt3Values = [
  9.9,10.3,10.6,10.2,11.3,10.9,
  11.0,11.4,11.1,11.5,11.2,11.6,11.7,12.1,12.5,13.0,
  13.6,14.6,14.3,14.9,15.4,15.6,15.9,16.1,15.6,15.9,
  16.2,15.9,16.3,16.1,16.5,16.7,16.6,17.0,17.2,17.6,
  18.0,18.4,18.9,18.7,19.2,19.6,20.0,20.5,20.9,21.6,
  23.0,23.6,23.2,23.1,23.5,23.4,22.9,22.6,22.8,22.4,
  22.3,21.9,22.2,21.8,21.6,21.9,22.1,21.8,22.0,22.3,
  22.4,22.0,21.7,21.6,22.0,22.3,22.7,22.5,22.9,22.6,
  22.4,22.8,22.3,22.6,22.5,22.9,22.7,23.1,23.6,24.1,
  24.7,24.5,24.9,25.0,24.8,24.6,24.5,24.9,25.3,25.7,
  26.3,26.6,27.0,26.8,26.5,26.6,27.0,27.3,27.1,27.7,
  27.5,27.8,28.0,27.7,28.2,28.6,28.3,28.0,28.4,27.3
];
const pt4Start = 31.7;
const pt4Values = [
  12.8,13.2,13.6,
  13.9,13.8,14.2,14.0,14.4,14.3,14.7,14.9,15.2,15.6,
  17.2,17.4,16.9,16.7,17.0,16.7,16.4,16.3,16.8,16.6,
  17.1,16.8,16.6,17.0,16.9,17.3,17.0,17.6,18.2,18.9,
  19.7,20.0,20.3,20.6,21.1,21.0,22.0,22.4,22.8,22.6,
  22.9,23.1,23.0,23.5,24.1,24.0,24.6,25.4,25.0,25.1,
  26.0,26.4,26.8,27.0,27.3,27.5,27.4,27.7,28.0,28.3,
  28.6,28.9,28.7,29.3,29.8,30.9,31.5,32.2,31.8,31.6,
  31.4,31.9,32.5,32.9,33.2,32.8,32.6,32.4,32.2,32.1
];

// ---- build series data ----
function sampled(start, step, values) {
  return values.map(function (v, i) {
    return [+(start + i * step).toFixed(4), v];
  });
}

const half = actualStep / 2;
const actualData = [].concat(
  sampled(0, actualStep, actual0to5),
  sampled(5, actualStep, actual5to10),
  sampled(10, actualStep, actual10to15),
  sampled(15, actualStep, actual15to20),
  sampled(20, actualStep, actual20to25),
  sampled(25, actualStep, actual25to30),
  sampled(30, actualStep, actual30to35),
  sampled(35, actualStep, actual35to40),
  sampled(0 + half, actualStep, actualB0to5),
  sampled(5 + half, actualStep, actualB5to10),
  sampled(10 + half, actualStep, actualB10to15),
  sampled(15 + half, actualStep, actualB15to20),
  sampled(20 + half, actualStep, actualB20to25),
  sampled(25 + half, actualStep, actualB25to30),
  sampled(30 + half, actualStep, actualB30to35),
  sampled(35 + half, actualStep, actualB35to40)
);
const filterData = [].concat(
  sampled(0, filterStep, filter0to8),
  sampled(8, filterStep, filter8to16),
  sampled(16, filterStep, filter16to24),
  sampled(24, filterStep, filter24to32)
);

// legend icons: tiny corner marks pin the box to 86x24
const boxCorners = 'M0,0h0.1v0.1h-0.1z M85.9,23.9h0.1v0.1h-0.1z ';
const dashIcon = 'path://' + boxCorners + 'M0,9.5h23v5h-23z M31.5,9.5h23v5h-23z M63,9.5h23v5h-23z';
const solidIcon = 'path://' + boxCorners + 'M0,9h86v6h-86z';

const serif = 'Liberation Serif';

function predLine(name, color, start, values) {
  return {
    name: name,
    type: 'line',
    data: sampled(start, predStep, values),
    symbol: 'none',
    showSymbol: false,
    itemStyle: {color: color},
    lineStyle: {color: color, width: 6, type: [30, 7], join: 'round'}
  };
}

function minus(v) {
  return String(v).replace('-', '\u2212');
}

const chart = echarts.init(document.getElementById('main'));
const option = {
  animation: false,
  backgroundColor: '#ffffff',
  grid: {
    left: 170, right: 18, top: 22, bottom: 164,
    show: true, borderColor: '#333', borderWidth: 2
  },
  legend: {
    orient: 'vertical',
    left: 191, top: 35,
    padding: [35, 38, 21, 27],
    itemWidth: 86, itemHeight: 24, itemGap: 17.5,
    backgroundColor: '#ffffff',
    borderColor: '#c8c8c8', borderWidth: 3, borderRadius: 2,
    itemStyle: {borderWidth: 0},
    selectedMode: false,
    textStyle: {fontFamily: serif, fontSize: 52, color: '#000', padding: [0, 0, 0, 14]},
    data: [
      {name: 'Failure threshold', icon: dashIcon},
      {name: 'Actual value', icon: 'circle'},
      {name: 'Stepwise prediction from PT1', icon: dashIcon},
      {name: 'Stepwise prediction from PT2', icon: dashIcon},
      {name: 'Stepwise prediction from PT3', icon: dashIcon},
      {name: 'Stepwise prediction from PT4', icon: dashIcon},
      {name: 'Filtering process', icon: solidIcon}
    ]
  },
  xAxis: {
    type: 'value',
    min: 0, max: 40,
    name: '{i|t}{n|(}{i|h}{n|)}',
    nameLocation: 'middle',
    nameGap: 60,
    nameTextStyle: {
      padding: [0, 24, 0, 0],
      rich: {
        i: {fontFamily: serif, fontStyle: 'italic', fontSize: 86, color: '#000'},
        n: {fontFamily: serif, fontSize: 86, color: '#000'}
      }
    },
    axisLine: {onZero: false, lineStyle: {color: '#222', width: 3}},
    axisTick: {inside: true, length: 10, customValues: xTicks, lineStyle: {color: '#222', width: 2}},
    axisLabel: {customValues: xTicks, margin: 15, fontFamily: serif, fontSize: 29, color: '#333', formatter: minus},
    splitLine: {show: false}
  },
  yAxis: {
    type: 'value',
    min: -8.2, max: 36,
    name: 'HI',
    nameLocation: 'middle',
    nameGap: 58,
    nameTextStyle: {fontFamily: serif, fontStyle: 'italic', fontSize: 100, color: '#000'},
    axisLine: {onZero: false, lineStyle: {color: '#222', width: 3}},
    axisTick: {inside: true, length: 10, customValues: yTicks, lineStyle: {color: '#222', width: 2}},
    axisLabel: {customValues: yTicks, margin: 15, fontFamily: serif, fontSize: 29, color: '#333', formatter: minus},
    splitLine: {show: false}
  },
  series: [
    {
      name: 'Actual value',
      type: 'scatter',
      data: actualData,
      symbol: 'circle',
      symbolSize: 12,
      large: false,
      itemStyle: {color: '#0000ff', opacity: 1}
    },
    {
      name: 'Failure threshold',
      type: 'line',
      data: [[0, failureThreshold], [40, failureThreshold]],
      symbol: 'none',
      itemStyle: {color: '#ff0000'},
      lineStyle: {color: '#ff0000', width: 4.5, type: [24, 9]}
    },
    predLine('Stepwise prediction from PT1', '#440154', pt1Start, pt1Values),
    predLine('Stepwise prediction from PT2', '#22697f', pt2Start, pt2Values),
    predLine('Stepwise prediction from PT3', '#1eb07c', pt3Start, pt3Values),
    predLine('Stepwise prediction from PT4', '#fde725', pt4Start, pt4Values),
    {
      name: 'Filtering process',
      type: 'line',
      data: filterData,
      symbol: 'none',
      showSymbol: false,
      itemStyle: {color: '#c2bc00'},
      lineStyle: {color: '#c2bc00', width: 3.5}
    }
  ]
};
chart.setOption(option);
</script>
</body>
</html>
